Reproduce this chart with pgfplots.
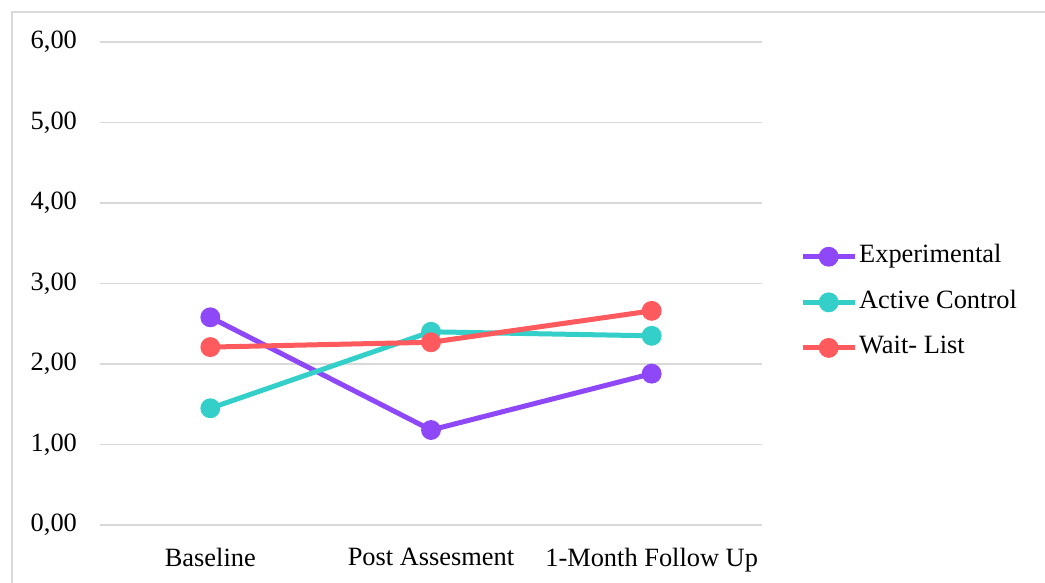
\documentclass[border=0pt]{standalone}
\usepackage{pgfplots}
\pgfplotsset{compat=1.18}
\usepackage{fontspec}
\setmainfont{Liberation Serif}

\definecolor{expc}{HTML}{8E48F8}
\definecolor{actc}{HTML}{33CFC8}
\definecolor{waitc}{HTML}{FF5A5E}
\definecolor{gridc}{HTML}{D9D9D9}

\begin{document}
\begin{tikzpicture}
% page area and outer frame
\useasboundingbox (0pt,0pt) rectangle (522.5pt,291.5pt);
\draw[gridc, line width=1pt] (6pt,0pt) -- (6pt,285.5pt) -- (522.5pt,285.5pt);
\begin{axis}[
  at={(50pt,29pt)}, anchor=south west,
  scale only axis,
  width=331pt, height=241.5pt,
  xmin=-0.5, xmax=2.5,
  ymin=0, ymax=6,
  axis line style={draw=none},
  clip=false,
  xtick={0,1,2},
  xticklabels={Baseline,Post Assesment,1-Month Follow Up},
  ytick={0,1,2,3,4,5,6},
  ymajorgrids,
  grid style={gridc, line width=0.8pt},
  major tick length=0pt,
  tick style={draw=none},
  tick label style={font=\fontsize{13.2}{15}\selectfont},
  yticklabel style={
    /pgf/number format/fixed,
    /pgf/number format/fixed zerofill,
    /pgf/number format/precision=2,
    /pgf/number format/use comma,
    /pgf/number format/assume math mode=true,
    xshift=-8pt},
  xticklabel style={yshift=-8pt},
  legend style={
    draw=none, fill=none,
    at={(1.048,0.461)}, anchor=west,
    font=\fontsize{13.2}{15}\selectfont,
    row sep=8.8pt,
    nodes={inner sep=1pt, text height=9pt, text depth=3pt},
  },
  legend cell align=left,
  legend image code/.code={
    \draw[mark repeat=2, mark phase=2, #1]
      plot coordinates {(0pt,0pt) (13pt,0pt) (26pt,0pt)};
  },
  every axis plot/.append style={line width=2.5pt, mark=*, mark size=3.7pt, mark options={solid}},
]
\addplot[expc, mark options={fill=expc, draw=expc}] coordinates {(0,2.58) (1,1.18) (2,1.88)};
\addlegendentry{Experimental}
\addplot[actc, mark options={fill=actc, draw=actc}] coordinates {(0,1.45) (1,2.40) (2,2.35)};
\addlegendentry{Active Control}
\addplot[waitc, mark options={fill=waitc, draw=waitc}] coordinates {(0,2.21) (1,2.27) (2,2.66)};
\addlegendentry{Wait- List}
\end{axis}
\end{tikzpicture}
\end{document}
